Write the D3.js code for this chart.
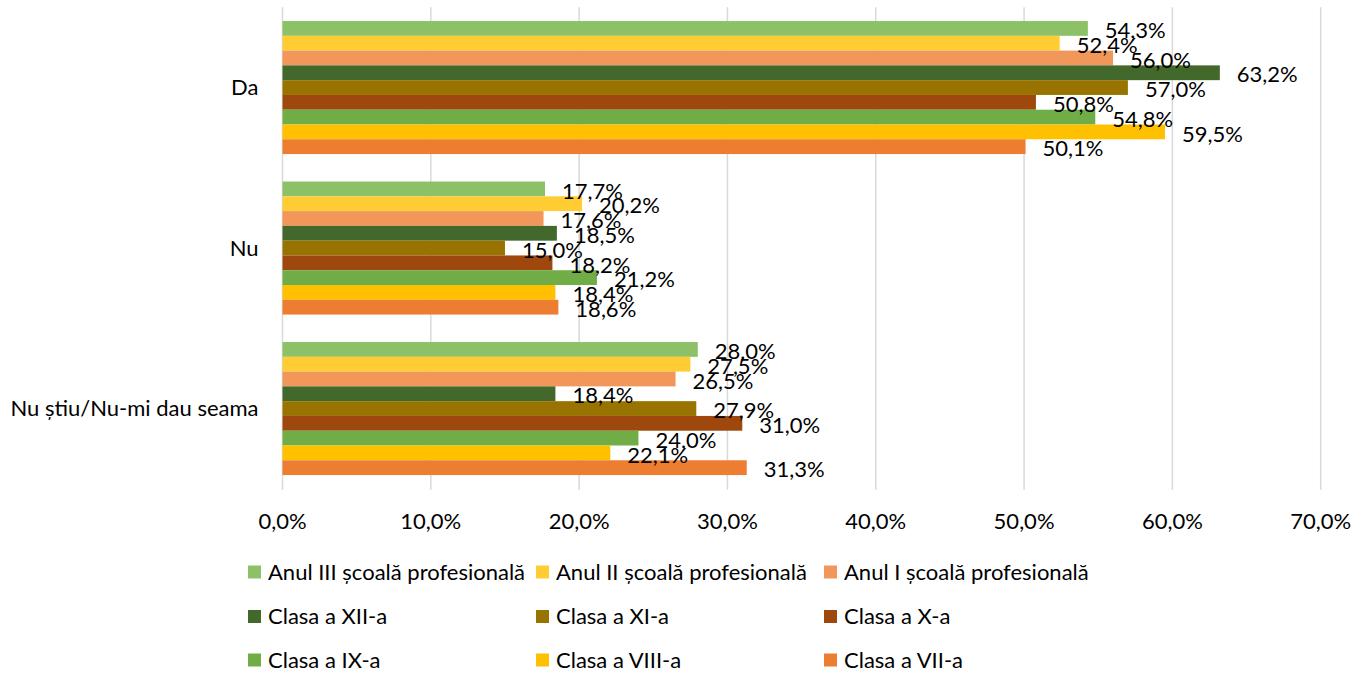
<!DOCTYPE html>
<html>
<head>
<meta charset="utf-8">
<script src="https://cdn.jsdelivr.net/npm/d3@7"></script>
<style>
	body { margin: 0; background: #fff; }
	text { font-family: Lato, "Open Sans", sans-serif; fill: #000; }
</style>
</head>
<body>
<div id="chart"></div>
<script>
const categories = ["Da", "Nu", "Nu știu/Nu-mi dau seama"];

const seriesNames = [
	"Anul III școală profesională",
	"Anul II școală profesională",
	"Anul I școală profesională",
	"Clasa a XII-a",
	"Clasa a XI-a",
	"Clasa a X-a",
	"Clasa a IX-a",
	"Clasa a VIII-a",
	"Clasa a VII-a"
];

const seriesColors = [
	"#8cc168", "#ffcd33", "#f1975a",
	"#43682b", "#997300", "#9e480e",
	"#70ad47", "#ffc000", "#ed7d31"
];

// values per series, in the order of categories
const valuesDa = [54.3, 52.4, 56.0, 63.2, 57.0, 50.8, 54.8, 59.5, 50.1];
const valuesNu = [17.7, 20.2, 17.6, 18.5, 15.0, 18.2, 21.2, 18.4, 18.6];
const valuesNuStiu = [28.0, 27.5, 26.5, 18.4, 27.9, 31.0, 24.0, 22.1, 31.3];

const xTicks = [0, 10, 20, 30, 40, 50, 60, 70];

const W = 1356, H = 673;
const plot = { left: 282.5, right: 1320.7, top: 7.3, bottom: 488.8 };
const fontSize = 22;

const svg = d3
	.select("#chart")
	.append("svg")
	.attr("width", W)
	.attr("height", H);

const x = d3.scaleLinear().domain([0, 70]).range([plot.left, plot.right]);

const y0 = d3
	.scaleBand()
	.domain(categories)
	.range([plot.top, plot.bottom])
	.padding(0);

const y1 = d3
	.scaleBand()
	.domain(seriesNames)
	.range([0, y0.bandwidth()])
	.paddingInner(0)
	.paddingOuter(0.93);

const color = d3.scaleOrdinal().domain(seriesNames).range(seriesColors);

const allValues = [valuesDa, valuesNu, valuesNuStiu];
const data = [];
categories.forEach((c, ci) => {
	seriesNames.forEach((s, si) => {
		data.push({ cat: c, series: s, value: allValues[ci][si] });
	});
});

const fmt = (v) => v.toFixed(1).replace(".", ",") + "%";

// gridlines
svg
	.append("g")
	.selectAll("line")
	.data(xTicks)
	.enter()
	.append("line")
	.attr("x1", (d) => x(d))
	.attr("x2", (d) => x(d))
	.attr("y1", plot.top)
	.attr("y2", plot.bottom + 1)
	.style("stroke", "#d9d9d9")
	.style("stroke-width", 1.5);

// x axis labels
svg
	.append("g")
	.selectAll("text")
	.data(xTicks)
	.enter()
	.append("text")
	.attr("x", (d) => x(d))
	.attr("y", 521)
	.attr("dy", "0.35em")
	.attr("text-anchor", "middle")
	.style("font-size", fontSize + "px")
	.text(fmt);

// category labels
svg
	.append("g")
	.selectAll("text")
	.data(categories)
	.enter()
	.append("text")
	.attr("x", plot.left - 24)
	.attr("y", (d) => y0(d) + y0.bandwidth() / 2)
	.attr("dy", "0.35em")
	.attr("text-anchor", "end")
	.style("font-size", fontSize + "px")
	.text((d) => d);

// bars
svg
	.append("g")
	.selectAll("rect")
	.data(data)
	.enter()
	.append("rect")
	.attr("x", x(0))
	.attr("y", (d) => y0(d.cat) + y1(d.series))
	.attr("width", (d) => x(d.value) - x(0))
	.attr("height", y1.bandwidth())
	.style("fill", (d) => color(d.series));

// data labels (outside end, overlapping as in the source)
svg
	.append("g")
	.selectAll("text")
	.data(data)
	.enter()
	.append("text")
	.attr("x", (d) => x(d.value) + 17)
	.attr("y", (d) => y0(d.cat) + y1(d.series) + y1.bandwidth() / 2 + 2)
	.attr("dy", "0.35em")
	.style("font-size", fontSize + "px")
	.text((d) => fmt(d.value));

// legend
const legendCols = [248, 536, 824];
const legendRows = [572, 616.5, 660];
const legend = svg
	.append("g")
	.selectAll("g")
	.data(seriesNames)
	.enter()
	.append("g")
	.attr("transform", (d, i) => `translate(${legendCols[i % 3]}, ${legendRows[Math.floor(i / 3)]})`);

legend
	.append("rect")
	.attr("x", 0)
	.attr("y", -6.5)
	.attr("width", 13)
	.attr("height", 13)
	.style("fill", (d) => color(d));

legend
	.append("text")
	.attr("x", 20)
	.attr("y", 0)
	.attr("dy", "0.35em")
	.style("font-size", fontSize + "px")
	.text((d) => d);
</script>
</body>
</html>
